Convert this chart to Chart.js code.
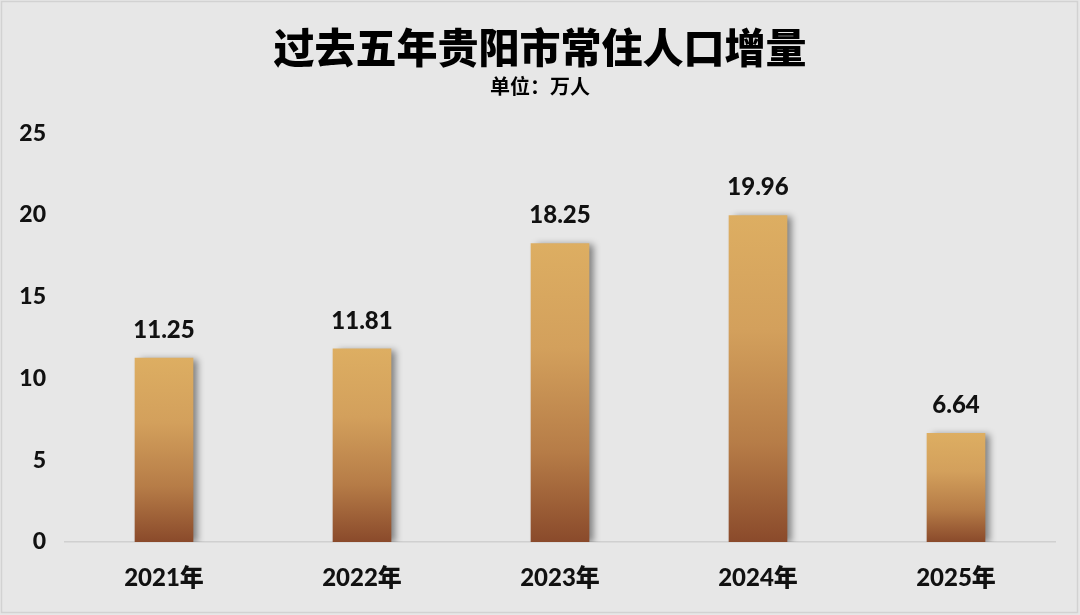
<!DOCTYPE html>
<html>
<head>
<meta charset="utf-8">
<script src="https://cdn.jsdelivr.net/npm/chart.js@4/dist/chart.umd.min.js"></script>
<style>
  html, body { margin: 0; padding: 0; background: #e7e7e7; }
  #wrap { width: 1080px; height: 615px; }
</style>
</head>
<body>
<div id="wrap"><canvas id="chart"></canvas></div>
<script>
// 过去五年贵阳市常住人口增量
const years = ['2021年', '2022年', '2023年', '2024年', '2025年'];
const increase = [11.25, 11.81, 18.25, 19.96, 6.64];
const yTicks = [0, 5, 10, 15, 20, 25];

const FONT = "Lato, 'Noto Sans CJK SC', sans-serif";
const CJK = "'Noto Sans CJK SC', sans-serif";

// background + thin frame
const frame = {
  id: 'frame',
  beforeDraw(chart) {
    const c = chart.ctx;
    c.save();
    c.fillStyle = '#e7e7e7';
    c.fillRect(0, 0, chart.width, chart.height);
    c.strokeStyle = '#d2d2d2';
    c.lineWidth = 1.5;
    c.strokeRect(1.5, 1.5, chart.width - 4, chart.height - 4);
    c.restore();
  }
};

// soft shadow to the right of the bars
const barShadow = {
  id: 'barShadow',
  beforeDatasetsDraw(chart) {
    const c = chart.ctx;
    c.save();
    c.shadowColor = 'rgba(0,0,0,0.45)';
    c.shadowBlur = 7;
    c.shadowOffsetX = 5;
    c.shadowOffsetY = 1;
  },
  afterDatasetsDraw(chart) {
    chart.ctx.restore();
  }
};

// value labels above bars
const valueLabels = {
  id: 'valueLabels',
  afterDatasetsDraw(chart) {
    const c = chart.ctx;
    const meta = chart.getDatasetMeta(0);
    c.save();
    c.font = '900 24px ' + FONT;
    c.fillStyle = '#111';
    c.textAlign = 'center';
    c.textBaseline = 'bottom';
    meta.data.forEach((bar, i) => {
      c.fillText(increase[i].toFixed(2), bar.x, bar.y - 16);
    });
    c.restore();
  }
};

function barGradient(context) {
  const chart = context.chart;
  const y = chart.scales.y;
  if (!chart.chartArea || !y) return '#c8934f';
  const v = context.raw;
  const top = y.getPixelForValue(v);
  const bottom = y.getPixelForValue(0);
  const g = chart.ctx.createLinearGradient(0, top, 0, bottom);
  g.addColorStop(0, '#ddae62');
  g.addColorStop(0.35, '#d3a05c');
  g.addColorStop(0.7, '#b67c47');
  g.addColorStop(1, '#8a4a2b');
  return g;
}

new Chart(document.getElementById('chart'), {
  type: 'bar',
  data: {
    labels: years,
    datasets: [{
      data: increase,
      backgroundColor: barGradient,
      borderWidth: 0,
      barThickness: 58
    }]
  },
  options: {
    responsive: true,
    maintainAspectRatio: false,
    animation: false,
    devicePixelRatio: 1,
    layout: { padding: 0 },
    plugins: {
      legend: { display: false },
      tooltip: { enabled: false },
      title: {
        display: true,
        text: '过去五年贵阳市常住人口增量',
        color: '#000',
        font: { family: CJK, size: 41, weight: '900', lineHeight: 1.2 },
        padding: { top: 23, bottom: 0 }
      },
      subtitle: {
        display: true,
        text: '单位：万人',
        color: '#000',
        font: { family: CJK, size: 20, weight: 'bold', lineHeight: 1.2 },
        padding: { top: 2, bottom: 35 }
      }
    },
    scales: {
      x: {
        grid: { display: false, drawTicks: false },
        border: { display: true, color: '#d0d0d0', width: 1.5 },
        ticks: {
          color: '#111',
          padding: 22,
          font: { family: FONT, size: 24, weight: '900' }
        },
        afterFit(scale) { scale.height = 73; }
      },
      y: {
        min: 0,
        max: 25,
        grid: { display: false, drawTicks: false },
        border: { display: false },
        afterBuildTicks(scale) { scale.ticks = yTicks.map(v => ({ value: v })); },
        ticks: {
          color: '#111',
          padding: 19,
          font: { family: FONT, size: 23, weight: '900' }
        },
        afterFit(scale) { scale.width = 65; }
      },
      // empty right-hand axis, only reserves the right margin
      yRight: {
        position: 'right',
        min: 0,
        max: 25,
        grid: { display: false, drawTicks: false },
        border: { display: false },
        ticks: { display: false },
        afterFit(scale) { scale.width = 25; }
      }
    }
  },
  plugins: [frame, barShadow, valueLabels]
});
</script>
</body>
</html>
